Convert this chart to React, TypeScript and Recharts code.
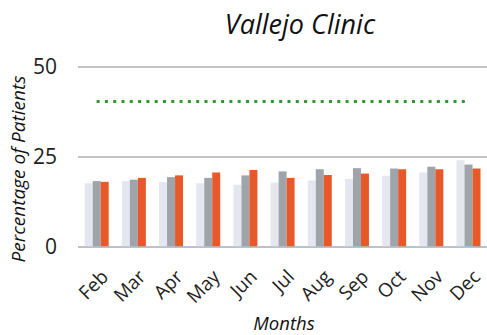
import React from 'react';
import { ComposedChart, Bar, Line, XAxis, YAxis, CartesianGrid } from 'recharts';

const months = ['Feb', 'Mar', 'Apr', 'May', 'Jun', 'Jul', 'Aug', 'Sep', 'Oct', 'Nov', 'Dec'];
const seriesA = [17.7, 18.3, 18.0, 17.7, 17.3, 17.9, 18.5, 18.9, 19.8, 20.7, 24.1];
const seriesB = [18.3, 18.7, 19.4, 19.2, 19.9, 21.0, 21.6, 21.9, 21.8, 22.3, 22.9];
const seriesC = [18.1, 19.2, 19.9, 20.7, 21.4, 19.2, 20.0, 20.4, 21.6, 21.6, 21.8];
const targetValue = [40.4, 40.4, 40.4, 40.4, 40.4, 40.4, 40.4, 40.4, 40.4, 40.4, 40.4];
const yTicks = [0, 25, 50];

const data = months.map((m, i) => ({
  month: m,
  a: seriesA[i],
  b: seriesB[i],
  c: seriesC[i],
  target: targetValue[i],
}));

const FONT = '"Open Sans", Lato, sans-serif';

const XTick = (props: any) => {
  const { x, y, payload } = props;
  return (
    <g transform={`translate(${x + 8},${y + 18})`}>
      <text
        transform="rotate(-45)"
        textAnchor="end"
        dominantBaseline="central"
        fontFamily={FONT}
        fontSize={19}
        fill="#222"
      >
        {payload.value}
      </text>
    </g>
  );
};

export default function App() {
  return (
    <div style={{ position: 'absolute', left: 0, top: 0, width: 487, height: 335, background: '#fff' }}>
      <ComposedChart
        width={487}
        height={335}
        data={data}
        margin={{ top: 67, right: 0, left: 0, bottom: 0 }}
        barGap={0}
        barCategoryGap="18%"
      >
        <CartesianGrid horizontal vertical={false} stroke="#8a8a8a" strokeWidth={1} />
        <XAxis
          dataKey="month"
          height={88}
          tick={<XTick />}
          tickLine={false}
          axisLine={{ stroke: '#b8c0cc', strokeWidth: 1.5 }}
          interval={0}
        />
        <YAxis
          width={78}
          domain={[0, 50]}
          ticks={yTicks}
          tickLine={false}
          axisLine={false}
          tickSize={0}
          tickMargin={21}
          tick={{ fontFamily: FONT, fontSize: 21, fill: '#222' }}
        />
        <Bar dataKey="a" fill="#e4e6f0" isAnimationActive={false} />
        <Bar dataKey="b" fill="#9fa4aa" isAnimationActive={false} />
        <Bar dataKey="c" fill="#e8592a" isAnimationActive={false} />
        <Line
          dataKey="target"
          stroke="#2e9a2e"
          strokeWidth={3}
          strokeDasharray="3 5.3"
          dot={false}
          isAnimationActive={false}
        />
      </ComposedChart>
      <svg width={487} height={335} style={{ position: 'absolute', left: 0, top: 0, pointerEvents: 'none' }}>
        <text x={300} y={34} textAnchor="middle" fontFamily={FONT} fontStyle="italic" fontSize={27} fill="#111">
          Vallejo Clinic
        </text>
        <text
          x={18}
          y={169}
          transform="rotate(-90 18 169)"
          textAnchor="middle"
          dominantBaseline="central"
          fontFamily={FONT}
          fontStyle="italic"
          fontSize={19}
          fill="#111"
        >
          Percentage of Patients
        </text>
        <text x={284} y={330} textAnchor="middle" fontFamily={FONT} fontStyle="italic" fontSize={18.5} fill="#111">
          Months
        </text>
      </svg>
    </div>
  );
}
